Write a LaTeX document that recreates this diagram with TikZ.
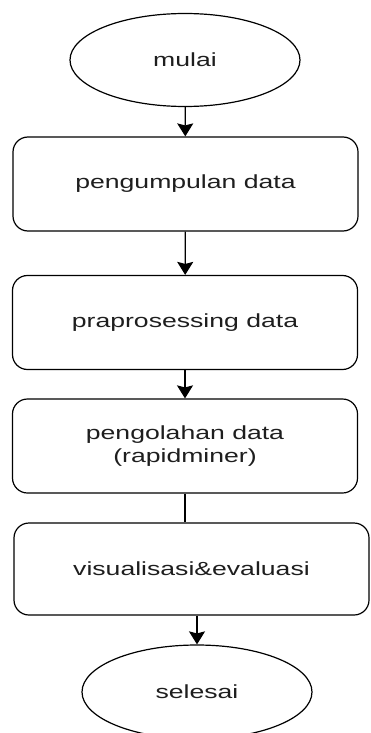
\documentclass[tikz,border=0pt]{standalone}
\usepackage{fontspec}
\setmainfont[FakeStretch=1.4]{Liberation Sans}
\usetikzlibrary{arrows.meta, shapes.geometric, positioning}
\definecolor{txtgray}{RGB}{30,30,30}

\begin{document}
\begin{tikzpicture}[x=1pt, y=-1pt,
    term/.style={draw, ellipse, line width=1.2pt, minimum width=230pt, minimum height=93pt, inner sep=0pt},
    proc/.style={draw, rounded corners=15pt, line width=1.2pt, minimum width=345pt, minimum height=94pt, align=center},
    flow/.style={line width=1.3pt, -{Stealth[width=16pt, length=13pt, inset=2pt]}},
    every node/.style={font=\fontsize{19}{23}\selectfont, text=txtgray}]
      \useasboundingbox (0,0) rectangle (370,733);
      \node[term] (S0) at (185,60){mulai};
      \node[proc] (P1) at (185.5,184){pengumpulan data};
      \node[proc] (P2) at (185,322.5){praprosessing data};
      \node[proc] (P3) at (185,446){pengolahan data\\(rapidminer)};
      \node[proc, minimum width=355pt, minimum height=92pt] (P4) at (191.5,569){visualisasi\&evaluasi};
      \node[term, minimum height=94pt] (S1) at (197,692){selesai};
      \foreach \a/\b in {S0/P1, P1/P2, P2/P3} {
        \draw[flow] (\a) -- (\b);
      }
      \draw[line width=1.3pt] (P3) -- (P3 |- P4.north);
      \draw[flow] (S1.north |- P4.south) -- (S1.north);
    \end{tikzpicture}
\end{document}
